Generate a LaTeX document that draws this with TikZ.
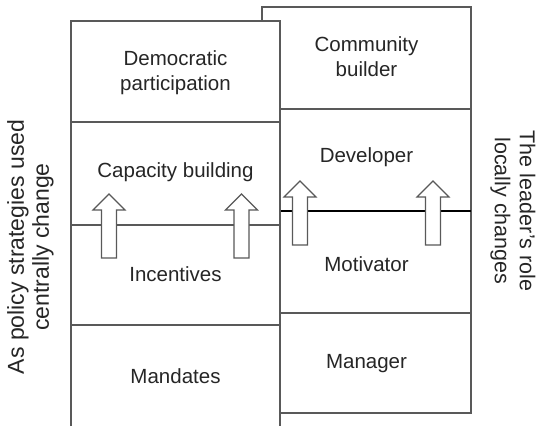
\documentclass[tikz,border=0pt]{standalone}
\usepackage{fontspec}
\setmainfont{Liberation Sans}
\usepackage{tikz}

\tikzset{
  frame/.style={draw=black!65,line width=1.1pt},
  cell/.style={inner sep=0pt,align=center,text=black!85,font=\fontsize{20.5}{25}\selectfont},
  side/.style={cell,font=\fontsize{#1}{25}\selectfont},
  pics/lift/.style={code={
    \draw[frame,fill=white] (-7.5,0) -- (-7.5,-48) -- (-16,-48) -- (0,-64)
      -- (16,-48) -- (7.5,-48) -- (7.5,0) -- cycle;}}
}

\begin{document}
\begin{tikzpicture}[x=1pt,y=-1pt]
\useasboundingbox (0,0) rectangle (537,426);
% leader's role column (behind)
\draw[frame,fill=white] (262,7) rectangle (471,413);
\draw[frame] (262,109) -- (471,109);
\draw[black,line width=2pt] (262,211) -- (471,211);
\draw[frame] (262,313) -- (471,313);
% policy strategies column (front, open at the bottom)
\fill[white] (71,21) rectangle (280,426);
\draw[frame] (71,426) -- (71,21) -- (280,21) -- (280,426);
\foreach \y in {122,225,325} {
   \draw[frame] (71,\y) -- (280,\y);
}
% upward arrows
\foreach \x/\y in {109/258,241.5/258,300/245,433/245} {
   \pic at (\x,\y) {lift};
}
% cell labels
\node[cell] (demo) at (175.5,73) {Democratic\\participation};
\node[cell] (capacity) at (175.5,172) {Capacity building};
\node[cell] (incent) at (175.5,274) {Incentives};
\node[cell] (mandate) at (175.5,376) {Mandates};
\node[cell] (builder) at (366.5,57) {Community\\builder};
\node[cell] (develop) at (366.5,157) {Developer};
\node[cell] (motiv) at (366.5,264) {Motivator};
\node[cell] (manage) at (366.5,364) {Manager};
% side captions
\node[side=23,rotate=90] (policy) at (30.5,247) {As policy strategies used\\centrally change};
\node[side=21.5,rotate=-90] (role) at (513,211) {The leader’s role\\locally changes};
\end{tikzpicture}
\end{document}
